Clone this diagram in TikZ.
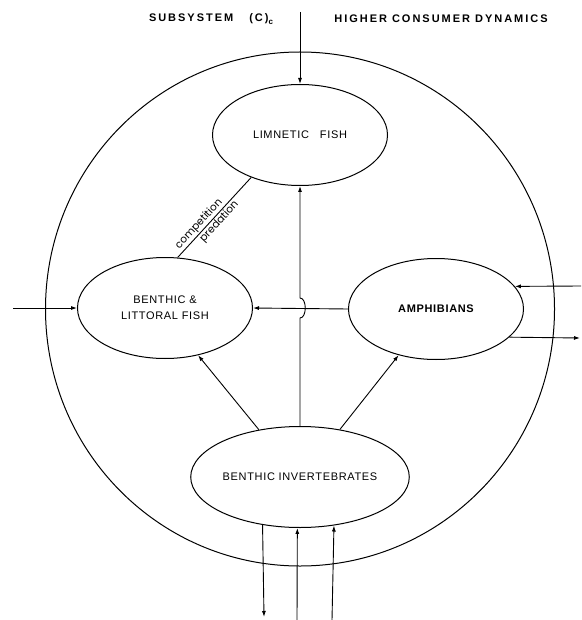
\documentclass[tikz,border=0pt]{standalone}
\usepackage{fontspec}
\setmainfont{Liberation Sans}
\newfontfamily\titlefont[LetterSpace=18]{Liberation Sans}
\newfontfamily\lblfont[LetterSpace=6]{Liberation Sans}
\newfontfamily\geofont{Poppins}
\usetikzlibrary{arrows.meta,shapes.geometric}
\begin{document}
\begin{tikzpicture}[x=1pt,y=-1pt,
  box/.style={draw, ellipse, minimum width=175pt, minimum height=101pt, inner sep=0pt,
    line width=1pt, font=\lblfont\fontsize{11}{13}\selectfont, align=center},
  sysbox/.style={draw, ellipse, minimum width=509pt, minimum height=514pt, line width=1pt},
  ttl/.style={font=\titlefont\bfseries\fontsize{11}{12}\selectfont, inner sep=0pt},
  conn/.style={line width=0.9pt},
  arr/.style={conn, -{Latex[length=6pt,width=4pt]}},
  rel/.style={font=\geofont\fontsize{10.5}{11}\selectfont, inner sep=1pt},
]
\useasboundingbox (0,0) rectangle (581,620);
\node[sysbox] (SYS) at (300,309) {};
\node[ttl] (T1) at (211,19) {SUBSYSTEM\hspace{16pt}(C)\raisebox{-3pt}{\fontsize{8}{8}\selectfont c}};
\node[ttl] (T2) at (441,19) {HIGHER CONSUMER DYNAMICS};

\node[box] (LF) at (300,135) {LIMNETIC\quad FISH};
\node[box] (BF) at (165,308) {BENTHIC \&\\[3pt] LITTORAL FISH};
\node[box] (AM) at (436,309) {\bfseries AMPHIBIANS};
\node[box] (BI) at (300,477) {BENTHIC INVERTEBRATES};

\coordinate (topin) at (300,12);
\coordinate (lin) at (13,308);
\coordinate (rin) at (581,286);
\coordinate (rout) at (580,338);
\coordinate (hopA) at (300,318);
\coordinate (hopB) at (300,298);
\coordinate (b1) at (264,617);
\coordinate (b2) at (297,620);
\coordinate (b3) at (332,620);

\draw[arr] (topin) -- (LF.north);
\draw[arr] (BI.north) -- (hopA) .. controls +(7,0) and +(7,0) .. (hopB) -- (LF.south);
\draw[arr] (AM.west) -- (BF.east);
\draw[arr] (lin) -- (BF.west);
\draw[arr] (rin) -- (AM.16.4);
\draw[arr] (AM.-21.9) -- (rout);
\draw[arr] (BI.131.6) -- (BF.-55);
\draw[arr] (BI.50.4) -- (AM.231.6);
\draw[arr] (BI.-128.4) -- (b1);
\draw[arr] (b2) -- (BI.-93.4);
\draw[arr] (b3) -- (BI.-55.5);
\draw[conn] (BF.76.8) -- (LF.221.2)
  node[rel, pos=0.36, sloped, above] {competition}
  node[rel, pos=0.50, sloped, below] {predation};
\end{tikzpicture}
\end{document}
